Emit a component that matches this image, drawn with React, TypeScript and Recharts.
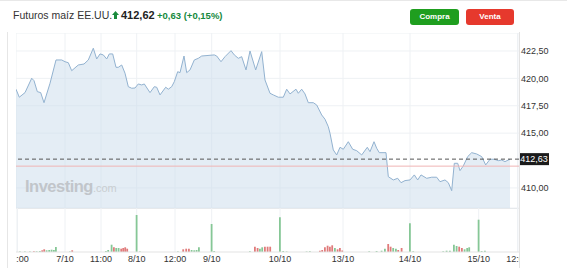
import React from "react";
import {
  ComposedChart,
  Area,
  XAxis,
  YAxis,
  CartesianGrid,
  ReferenceLine,
  BarChart,
  Bar,
  Cell,
} from "recharts";

// t = trading-time step since the left edge of the window
const priceTimes = [
  0, 3.3, 9, 15.7, 18, 21.3, 24.7, 28, 34, 40, 45.7, 49, 52.3, 55.7, 62.3, 68, 72.3, 77.3, 80.7, 84,
  87.3, 90.7, 93.3, 96.7, 100, 102.3, 105.7, 109, 112.3, 115.7, 119, 122.3, 125.7, 128.3, 134, 138.3,
  140.7, 144, 149.7, 152.3, 155.7, 158.3, 161.7, 164, 168, 170.7, 174, 178.3, 182.3, 185.7, 198.3,
  200.7, 205, 209, 215, 218.3, 222.3, 225.7, 230, 234, 239.7, 245.7, 249, 254, 257.3, 262.3, 267.3,
  270.7, 274, 280, 282.3, 285.7, 289, 292.3, 297.3, 300.7, 305.7, 309, 312.3, 314, 317.3, 320.7, 324,
  327.3, 332.3, 336.7, 340.7, 345.7, 351.3, 354, 358, 360.7, 363.3, 370, 372.3, 377.3, 381.7, 385,
  389, 394, 398.3, 401.7, 405, 410.7, 415.7, 420.7, 424, 429, 432.3, 435.7, 438.3, 441.7, 444, 447.3,
  451.7, 455.7, 460.7, 465.7, 469.7, 474, 478.3, 482.3, 485.7, 489, 492.3, 494,
];
const prices = [
  419.01, 418.28, 418.7, 420.01, 419.79, 418.79, 418.7, 417.78, 419.55, 421.68, 421.68, 421.52, 421.43,
  420.7, 421.22, 421.31, 421.68, 422.75, 421.77, 422.23, 422.14, 421.77, 422.23, 422.23, 421.01, 421.01,
  421.22, 420.47, 419.24, 419.1, 419.12, 419.49, 419.4, 419.49, 418.7, 419.24, 419.19, 418.49, 419.19,
  419.01, 419.24, 419.7, 420.61, 420.52, 422.04, 420.52, 420.77, 421.68, 421.83, 422.04, 422.14,
  422.04, 421.52, 421.98, 422.53, 422.14, 421.83, 421.98, 420.77, 422.5, 420.77, 422.44, 419.85,
  418.64, 418.49, 418.28, 418.28, 419.01, 418.58, 419.01, 418.64, 419.01, 418.58, 417.78, 417.78,
  417.57, 416.66, 416.27, 415.59, 414.99, 413.47, 413.01, 413.71, 413.53, 414.22, 413.53, 413.4,
  413.01, 413.71, 413.31, 414.22, 413.62, 413.22, 413.22, 411.03, 410.73, 410.88, 410.48, 410.67,
  410.73, 411.19, 410.73, 411.19, 410.88, 410.98, 410.98, 410.57, 410.73, 410.48, 409.75, 412.25,
  412.25, 411.58, 412.01, 412.86, 413.22, 413.1, 412.86, 412.1, 412.62, 412.62, 412.49, 412.55,
  412.4, 412.55, 412.62,
];

const volTimes = [
  4, 9, 14, 18, 20.7, 24, 26.3, 28.3, 30.7, 33.3, 35.7, 38, 40, 54, 56.3, 90, 92.3, 95.7, 98, 100.3,
  102.7, 105.3, 107.3, 109.3, 111.3, 120.7, 124, 162, 167.3, 170.3, 173, 175.7, 178.3, 180.7, 183,
  195.7, 198.3, 234, 239, 241.7, 244, 246.3, 249, 251.7, 254.3, 264, 267.3, 270.7, 290.7, 294, 304,
  306.3, 309, 311.7, 314, 316.3, 319, 321.7, 324, 326.3, 353.3, 360.7, 365.7, 369, 372.3, 374.7,
  377.3, 380, 382.3, 385.7, 394, 397.3, 427.3, 430.7, 434, 438, 440.7, 443.3, 446, 448.7, 451.3,
  453.3, 462.7, 465.7, 469,
];
const volumes = [
  0.5, 0.5, 0.5, 0.7, 0.7, 1, 1.7, 2.7, 1.7, 2, 2.3, 2, 5, 0.5, 1.7, 1, 2, 7.3, 4.7, 4, 4, 3.3, 4,
  4.7, 3.3, 37, 0.5, 0.5, 2.7, 3.3, 3.3, 2, 1.7, 2, 4.7, 28, 1, 0.7, 5.3, 4, 3.3, 4.7, 5.3, 5.3,
  5.3, 34.7, 1, 0.5, 0.5, 0.7, 1.3, 2, 4.7, 6.3, 5.3, 6.7, 4, 2.7, 4, 1.5, 0.7, 1, 1.3, 3.3, 8, 5.3,
  4, 3.3, 2, 4, 28.7, 0.7, 0.7, 1.3, 1.3, 7.3, 6, 5.3, 4, 2.7, 4, 4.7, 32.3, 1, 1.3,
];
// 1 = price up in the bar, 0 = down
const volUp = [
  1, 1, 1, 0, 1, 1, 0, 0, 1, 1, 1, 1, 1, 1, 0, 1, 1, 1, 0, 1, 1, 0, 0, 0, 0, 1, 1, 1, 0, 0, 0, 1, 1,
  1, 1, 1, 1, 1, 0, 0, 1, 1, 0, 0, 0, 1, 1, 1, 1, 1, 0, 0, 0, 0, 0, 0, 1, 0, 0, 0, 1, 1, 1, 1, 0, 0,
  1, 1, 0, 0, 1, 1, 1, 1, 1, 1, 1, 0, 0, 1, 1, 1, 1, 1, 1,
];

const xTickTimes = [1.5, 49, 85, 120.7, 159, 195.7, 264, 327, 394, 462.7, 501.5];
const xTickLabels = ["12:00", "7/10", "11:00", "8/10", "12:00", "9/10", "10/10", "13/10", "14/10", "15/10", "12:00"];
const yTicks = [410, 415, 417.5, 420, 422.5];
const lastPrice = 412.63;
const prevClose = 411.99;

const priceData = priceTimes.map((t, i) => ({ t, price: prices[i] }));
const volData = volTimes.map((t, i) => ({ t, vol: volumes[i], up: volUp[i] }));

const FONT = "'Liberation Sans', Arial, sans-serif";
const GRID = "#eef1f4";
const fmt = (v: number) => v.toFixed(2).replace(".", ",");

function PriceTag(props: any) {
  const vb = props.viewBox;
  if (!vb) return null;
  const x = vb.x + vb.width;
  return (
    <g>
      <rect x={x} y={vb.y - 6} width={30} height={12} fill="#1b1b1b" />
      <text x={x + 15} y={vb.y + 3.2} textAnchor="middle" fill="#fff" fontSize={9} fontFamily={FONT}>
        {fmt(lastPrice)}
      </text>
    </g>
  );
}

export default function App() {
  return (
    <div style={{ position: "absolute", left: 0, top: 0, width: 567, height: 268, background: "#fff", fontFamily: FONT, overflow: "hidden" }}>
      <div style={{ position: "absolute", left: 0, top: 0, width: 567, height: 1, background: "#e8e8e8" }} />

      {/* header */}
      <div style={{ position: "absolute", left: 13, top: 8, fontSize: 10.5, lineHeight: "14px", color: "#333" }}>
        Futuros maíz EE.UU.
      </div>
      <svg style={{ position: "absolute", left: 112, top: 11 }} width={7} height={8}>
        <polygon points="3.5,0 7,4 0,4" fill="#1a8a3c" />
        <rect x={2} y={4} width={3} height={4} fill="#1a8a3c" />
      </svg>
      <div style={{ position: "absolute", left: 121, top: 7.5, fontSize: 11, lineHeight: "14px", fontWeight: 700, color: "#222" }}>
        412,62
      </div>
      <div style={{ position: "absolute", left: 157, top: 8.5, fontSize: 9.5, lineHeight: "13px", fontWeight: 700, color: "#16893d" }}>
        +0,63 (+0,15%)
      </div>
      <div style={{ position: "absolute", left: 410, top: 9, width: 49, height: 16, borderRadius: 3, background: "#1f9e1f", color: "#fff", fontSize: 8, fontWeight: 700, lineHeight: "16px", textAlign: "center" }}>
        Compra
      </div>
      <div style={{ position: "absolute", left: 466, top: 9, width: 48, height: 16, borderRadius: 3, background: "#e6392d", color: "#fff", fontSize: 8, fontWeight: 700, lineHeight: "16px", textAlign: "center" }}>
        Venta
      </div>

      {/* frame lines */}
      <div style={{ position: "absolute", left: 7, top: 32, width: 1, height: 236, background: "#e6e6e6" }} />

      {/* price panel */}
      <div style={{ position: "absolute", left: 16, top: 33 }}>
        <ComposedChart width={551} height={175} data={priceData} margin={{ top: 0, right: 0, bottom: 0, left: 0 }}>
          <CartesianGrid stroke={GRID} />
          <XAxis dataKey="t" type="number" domain={[0, 503]} ticks={xTickTimes} hide allowDataOverflow />
          <YAxis
            orientation="right"
            domain={[408.17, 424.14]}
            ticks={yTicks}
            interval={0}
            allowDataOverflow
            width={48}
            axisLine={false}
            tickLine={false}
            tickSize={0}
            tickMargin={2}
            tick={{ fontSize: 9, fill: "#333", fontFamily: FONT }}
            tickFormatter={fmt}
          />
          <Area
            type="linear"
            dataKey="price"
            stroke="#92b2d0"
            strokeWidth={1}
            fill="#cadcec"
            fillOpacity={0.5}
            dot={false}
            activeDot={false}
            isAnimationActive={false}
          />
          <ReferenceLine y={prevClose} stroke="#f0b4b4" strokeWidth={1} />
          <ReferenceLine y={lastPrice} stroke="#555" strokeDasharray="4 3" label={(p: any) => <PriceTag {...p} />} />
        </ComposedChart>
      </div>

      {/* watermark */}
      <div style={{ position: "absolute", left: 25, top: 178, display: "flex", alignItems: "baseline", pointerEvents: "none" }}>
        <span style={{ fontSize: 16.5, fontWeight: 700, letterSpacing: -0.5, color: "#c1c5ca", lineHeight: 1 }}>Investing</span>
        <span style={{ fontSize: 11, color: "#c9cdd1", lineHeight: 1 }}>.com</span>
      </div>

      <div style={{ position: "absolute", left: 16, top: 208, width: 503, height: 1, background: "#e6e9ec" }} />

      {/* volume panel */}
      <div style={{ position: "absolute", left: 16, top: 208, width: 503, height: 60, overflow: "hidden" }}>
        <BarChart width={503} height={60} data={volData} margin={{ top: 0, right: 0, bottom: 0, left: 0 }}>
          <CartesianGrid stroke={GRID} horizontal={false} />
          <XAxis
            dataKey="t"
            type="number"
            domain={[0, 503]}
            ticks={xTickTimes}
            interval={0}
            allowDataOverflow
            height={16}
            tickLine={false}
            tickSize={2}
            tickMargin={2}
            axisLine={{ stroke: "#e3e3e3" }}
            tick={{ fontSize: 9, fill: "#333", fontFamily: FONT }}
            tickFormatter={(v: number) => xTickLabels[xTickTimes.indexOf(v)]}
          />
          <YAxis hide domain={[0, 44]} allowDataOverflow />
          <Bar dataKey="vol" barSize={2} isAnimationActive={false}>
            {volData.map((d, i) => (
              <Cell key={i} fill={d.up ? "#86c796" : "#e07b7b"} />
            ))}
          </Bar>
        </BarChart>
      </div>

      <div style={{ position: "absolute", left: 519, top: 32, width: 1, height: 236, background: "#e3e3e3" }} />
    </div>
  );
}
